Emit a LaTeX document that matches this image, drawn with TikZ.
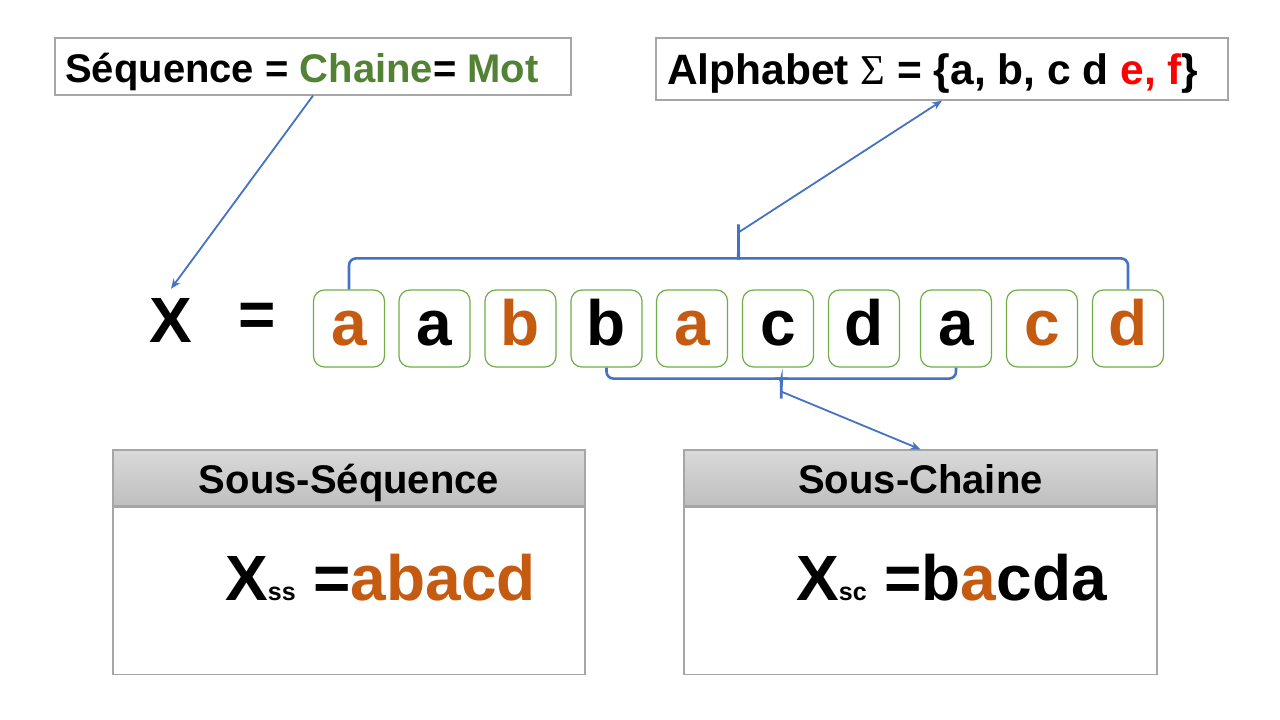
\documentclass[tikz,border=0pt]{standalone}
\usepackage{fontspec}
\setmainfont{Liberation Sans}
\newfontfamily\sigmafont{Liberation Serif}
\usepackage{tikz}
\usetikzlibrary{arrows.meta,positioning,calc}
\definecolor{linkblue}  {RGB}{68,114,196}
\definecolor{boxgreen}  {RGB}{112,173,71}
\definecolor{wordgreen} {RGB}{84,130,53}
\definecolor{hilite}    {RGB}{197,90,17}
\definecolor{framegray} {RGB}{166,166,166}
\definecolor{headtop}   {RGB}{218,218,218}
\definecolor{headbot}   {RGB}{190,190,190}
\tikzset{
  framebox/.style ={draw=framegray, line width=1.3pt, inner sep=0pt},
  toptext/.style  ={font=\fontsize{40}{40}\bfseries\selectfont, inner sep=0pt},
  letterbox/.style={draw=boxgreen, line width=1.2pt, rounded corners=11pt,
                    minimum width=71pt, minimum height=77pt, inner sep=0pt,
                    text height=46pt, text depth=13pt,
                    font=\fontsize{64}{64}\bfseries\selectfont},
  bigsym/.style   ={font=\fontsize{64}{64}\bfseries\selectfont, inner sep=0pt},
  headbox/.style  ={framebox, top color=headtop, bottom color=headbot,
                    minimum height=56pt, text height=36pt, text depth=6pt,
                    font=\fontsize{40}{40}\bfseries\selectfont},
  bodybox/.style  ={framebox, minimum height=167pt},
  bodytext/.style ={font=\fontsize{64}{64}\bfseries\selectfont, inner sep=0pt},
  brace/.style    ={draw=linkblue, line width=2.6pt, rounded corners=7pt},
  link/.style     ={-{Stealth[length=10pt,width=8pt]}, draw=linkblue, line width=1.8pt},
}
\newcommand{\subsc}[1]{{\fontsize{25}{25}\selectfont #1}}
\begin{document}
\begin{tikzpicture}[x=1pt,y=-1pt]
  \useasboundingbox (0,0) rectangle (1280,720);
  % definitions at the top
  \node[framebox, minimum width=516pt, minimum height=57pt] (seq) at (313,66.5) {};
  \node[toptext, anchor=base west] (seqtxt) at (65,82)
    {Séquence = \textcolor{wordgreen}{Chaine}= \textcolor{wordgreen}{Mot}};
  \node[framebox, minimum width=572pt, minimum height=62pt] (alpha) at (942,69) {};
  \node[toptext, anchor=base west, font=\fontsize{42.5}{42.5}\bfseries\selectfont]
    (alphatxt) at (667,84)
    {Alphabet {\sigmafont\mdseries Σ} = \{a, b, c d \textcolor{red}{e, f}\}};
  % the word X
  \node[bigsym, inner sep=9pt] (xvar) at (171,320) {X};
  \node[bigsym] (eqsign) at (257,320) {=};
  \foreach \x/\c/\col [count=\i] in {349/a/hilite, 434.5/a/black, 520.5/b/hilite,
      606.5/b/black, 692/a/hilite, 778/c/black, 864/d/black, 956/a/black,
      1042/c/hilite, 1128/d/hilite}
    \node[letterbox, text=\col] (l\i) at (\x,328.5) {\c};
  % braces
  \coordinate (topTip)  at ($(l1.north)!0.5!(l10.north)+(0,-65)$);
  \coordinate (topFoot) at ($(topTip)+(0,8)$);
  \draw[brace] (l1.north) |- ($(topTip)+(-7,34)$) to[out=0,in=-90] ($(topTip)+(0,20)$) -- (topTip);
  \draw[brace] (l10.north) |- ($(topTip)+(7,34)$) to[out=180,in=-90] ($(topTip)+(0,20)$);
  \coordinate (botTip)  at ($(l4.south)!0.5!(l8.south)+(0,31)$);
  \coordinate (botFoot) at ($(botTip)+(0,-7)$);
  \draw[brace] (l4.south) |- ($(botTip)+(-6,-20)$) to[out=0,in=90] ($(botTip)+(0,-12)$) -- (botTip);
  \draw[brace] (l8.south) |- ($(botTip)+(6,-20)$) to[out=180,in=90] ($(botTip)+(0,-12)$);
  % result boxes
  \node[headbox, minimum width=472pt] (ssHead) at (349,478) {Sous-Séquence};
  \node[bodybox, minimum width=472pt, below=0pt of ssHead] (ssBody) {};
  \node[bodytext, anchor=base west] (ssText) at (225,600)
    {X\subsc{ss} =\textcolor{hilite}{abacd}};
  \node[headbox, minimum width=473pt] (scHead) at (920.5,478) {Sous-Chaine};
  \node[bodybox, minimum width=473pt, below=0pt of scHead] (scBody) {};
  \node[bodytext, anchor=base west] (scText) at (796,600)
    {X\subsc{sc} =b\textcolor{hilite}{a}cda};
  % links
  \draw[link] (seq.south) -- (xvar.north);
  \draw[link] (topFoot) -- (alpha.south);
  \draw[link] (botFoot) -- (scHead.north);
\end{tikzpicture}
\end{document}
